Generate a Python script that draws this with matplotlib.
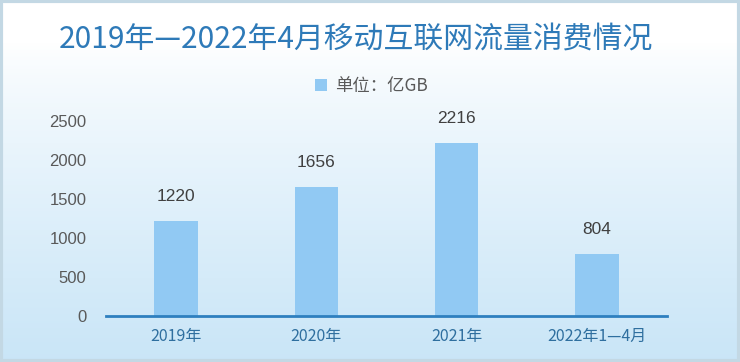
import numpy as np
import matplotlib.pyplot as plt
from matplotlib.patches import Rectangle

plt.rcParams['font.family'] = ['Noto Sans CJK SC', 'DejaVu Sans']

categories = ['2019年', '2020年', '2021年', '2022年1—4月']
values = [1220, 1656, 2216, 804]
yticks = [0, 500, 1000, 1500, 2000, 2500]

fig = plt.figure(figsize=(7.4, 3.62), dpi=100)

# background: white at top fading to light blue, with a thin border
bg = fig.add_axes([0, 0, 1, 1], zorder=-10)
grad = np.linspace(0, 1, 256).reshape(-1, 1)
top = np.array([1.0, 1.0, 1.0])
bottom = np.array([0.79, 0.90, 0.97])
w = np.clip((grad - 0.12) / 0.88, 0, 1) ** 0.8
img = top * (1 - w) + bottom * w
bg.imshow(img.reshape(256, 1, 3), aspect='auto', extent=[0, 1, 0, 1], origin='upper')
bg.add_patch(Rectangle((0.002, 0.004), 0.996, 0.992, transform=bg.transAxes,
                       fill=False, edgecolor='#c3d8e4', linewidth=3))
bg.set_xlim(0, 1)
bg.set_ylim(0, 1)
bg.axis('off')

ax = fig.add_axes([0.1432, 0.1257, 0.7582, 0.5409])
ax.patch.set_alpha(0)
x = np.arange(len(categories))
bars = ax.bar(x, values, width=0.31, color='#91c9f3', label='单位：亿GB')
for xi, v in zip(x, values):
    ax.annotate(str(v), (xi, v), xytext=(0, 12), textcoords='offset points',
                ha='center', va='bottom', fontsize=12.5, color='#404040',
                family=['Liberation Sans', 'DejaVu Sans'])

ax.set_xlim(-0.5, len(categories) - 0.5)
ax.set_ylim(0, 2500)
ax.set_yticks(yticks)
ax.set_yticklabels([str(t) for t in yticks], fontsize=12, color='#595959',
                   family=['Liberation Sans', 'DejaVu Sans'])
ax.set_xticks(x)
ax.set_xticklabels(categories, fontsize=11.5, color='#2f6f9f')
ax.tick_params(axis='both', length=0)
ax.tick_params(axis='y', pad=14)
ax.tick_params(axis='x', pad=8)
for s in ['top', 'right', 'left']:
    ax.spines[s].set_visible(False)
ax.spines['bottom'].set_color('#2e7fbf')
ax.spines['bottom'].set_linewidth(2)

fig.text(0.481, 0.892, '2019年—2022年4月移动互联网流量消费情况', ha='center', va='center',
         fontsize=21.5, color='#2e7ab8')
leg = fig.legend(handles=[bars], loc='center', bbox_to_anchor=(0.502, 0.762), frameon=False,
                 fontsize=12.5, handlelength=0.7, handleheight=0.7, handletextpad=0.5)
for t in leg.get_texts():
    t.set_color('#595959')

fig.savefig('out.png', dpi=100)
